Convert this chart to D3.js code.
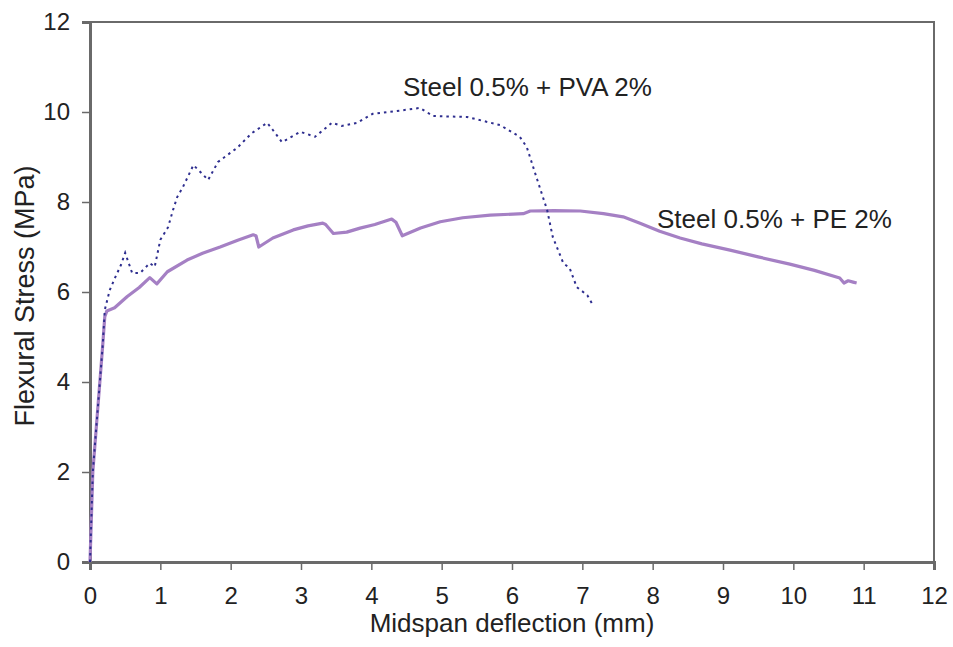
<!DOCTYPE html>
<html>
<head>
<meta charset="utf-8">
<script src="https://cdn.jsdelivr.net/npm/d3@7"></script>
<style>
  html, body { margin: 0; padding: 0; background: #fff; }
  svg text { font-family: "Liberation Sans", Arial, sans-serif; fill: #222; }
</style>
</head>
<body>
<svg id="chart" width="953" height="647"></svg>
<script>
// Midspan deflection (mm) vs flexural stress (MPa)
const xTicks = [0, 1, 2, 3, 4, 5, 6, 7, 8, 9, 10, 11, 12];
const yTicks = [0, 2, 4, 6, 8, 10, 12];

const peLabel = "Steel 0.5% + PE 2%";
const pvaLabel = "Steel 0.5% + PVA 2%";

const peDeflection = [0, 0.02, 0.04, 0.09, 0.14, 0.18, 0.21, 0.24, 0.35, 0.53, 0.7, 0.85, 0.95, 1.1, 1.38, 1.6, 1.85, 2.1, 2.32, 2.36, 2.4, 2.6, 2.89, 3.1, 3.31, 3.35, 3.46, 3.65, 3.84, 4.05, 4.29, 4.35, 4.44, 4.7, 4.98, 5.3, 5.69, 6.16, 6.26, 6.6, 6.97, 7.3, 7.58, 7.82, 8.1, 8.39, 8.7, 9.1, 9.5, 9.95, 10.3, 10.66, 10.72, 10.78, 10.85, 10.9];
const peStress = [0, 1, 2, 3, 4, 4.8, 5.45, 5.58, 5.65, 5.9, 6.1, 6.32, 6.18, 6.45, 6.71, 6.86, 7.0, 7.15, 7.27, 7.25, 7.0, 7.2, 7.38, 7.47, 7.53, 7.5, 7.3, 7.33, 7.42, 7.5, 7.62, 7.55, 7.25, 7.42, 7.56, 7.65, 7.71, 7.74, 7.8, 7.81, 7.8, 7.74, 7.67, 7.53, 7.35, 7.2, 7.07, 6.93, 6.78, 6.62, 6.48, 6.31, 6.2, 6.25, 6.22, 6.2];

const pvaDeflection = [0, 0.02, 0.04, 0.09, 0.14, 0.18, 0.21, 0.28, 0.36, 0.44, 0.5, 0.6, 0.71, 0.85, 0.92, 1.0, 1.11, 1.18, 1.24, 1.32, 1.47, 1.58, 1.68, 1.82, 2.09, 2.3, 2.52, 2.6, 2.73, 2.99, 3.2, 3.44, 3.58, 3.8, 4.02, 4.4, 4.69, 4.88, 5.36, 5.83, 6.11, 6.21, 6.36, 6.5, 6.58, 6.73, 6.82, 6.92, 7.07, 7.15];
const pvaStress = [0, 1, 2, 3, 4, 4.8, 5.6, 6.04, 6.33, 6.6, 6.87, 6.42, 6.42, 6.64, 6.56, 7.16, 7.44, 7.82, 8.11, 8.33, 8.82, 8.65, 8.49, 8.89, 9.2, 9.53, 9.76, 9.6, 9.33, 9.56, 9.45, 9.76, 9.69, 9.76, 9.96, 10.03, 10.09, 9.91, 9.89, 9.71, 9.45, 9.22, 8.49, 7.82, 7.22, 6.64, 6.53, 6.11, 5.93, 5.71];

const svg = d3.select("#chart");
const plotLeft = 90, plotRight = 934, plotTop = 22, plotBottom = 562;

const x = d3.scaleLinear().domain([0, 12]).range([plotLeft, plotRight]);
const y = d3.scaleLinear().domain([0, 12]).range([plotBottom, plotTop]);

const axisColor = "#6a6a6a";

// plot frame (top and right edges)
svg.append("path")
  .attr("d", `M${plotLeft},${plotTop}H${plotRight}V${plotBottom}`)
  .attr("fill", "none").attr("stroke", axisColor).attr("stroke-width", 2);

// x axis
const gx = svg.append("g").attr("transform", `translate(0,${plotBottom})`)
  .call(d3.axisBottom(x).tickValues(xTicks).tickSize(8).tickPadding(17).tickFormat(d3.format("d")));
gx.select(".domain").attr("stroke", axisColor).attr("stroke-width", 3);
gx.selectAll(".tick line").attr("stroke", axisColor).attr("stroke-width", 1.5);
gx.selectAll(".tick text").attr("font-size", 24).attr("fill", "#222")
  .attr("font-family", "Liberation Sans, Arial, sans-serif");

// y axis
const gy = svg.append("g").attr("transform", `translate(${plotLeft},0)`)
  .call(d3.axisLeft(y).tickValues(yTicks).tickSize(8).tickPadding(12).tickFormat(d3.format("d")));
gy.select(".domain").attr("stroke", axisColor).attr("stroke-width", 3);
gy.selectAll(".tick line").attr("stroke", axisColor).attr("stroke-width", 1.5);
gy.selectAll(".tick text").attr("font-size", 24).attr("fill", "#222")
  .attr("font-family", "Liberation Sans, Arial, sans-serif");

// axis titles
svg.append("text")
  .attr("x", 512).attr("y", 632)
  .attr("text-anchor", "middle").attr("font-size", 26)
  .text("Midspan deflection (mm)");

svg.append("text")
  .attr("transform", `translate(34,296) rotate(-90)`)
  .attr("text-anchor", "middle").attr("font-size", 27)
  .text("Flexural Stress (MPa)");

const line = d3.line().x(d => x(d[0])).y(d => y(d[1]));

// PE curve: solid purple
svg.append("path")
  .datum(d3.zip(peDeflection, peStress))
  .attr("d", line)
  .attr("fill", "none").attr("stroke", "#a580c4").attr("stroke-width", 3.2)
  .attr("stroke-linejoin", "round");

// PVA curve: dotted navy
svg.append("path")
  .datum(d3.zip(pvaDeflection, pvaStress))
  .attr("d", line)
  .attr("fill", "none").attr("stroke", "#2e2e8f").attr("stroke-width", 2)
  .attr("stroke-dasharray", "2.5,4");

// curve labels
svg.append("text").attr("x", 403).attr("y", y(10.35))
  .attr("font-size", 26).text(pvaLabel);
svg.append("text").attr("x", 657).attr("y", y(7.42))
  .attr("font-size", 26).text(peLabel);
</script>
</body>
</html>
